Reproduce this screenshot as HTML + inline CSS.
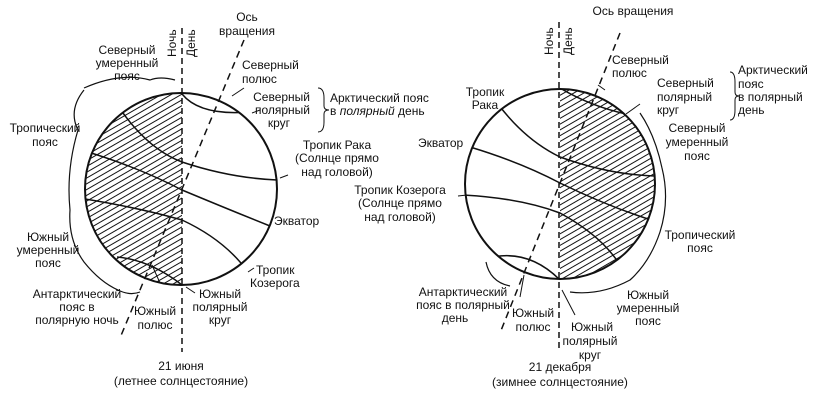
<!DOCTYPE html>
<html><head><meta charset="utf-8"><style>
html,body{margin:0;padding:0;background:#fff}
svg{display:block}
text{font-family:"Liberation Sans","DejaVu Sans",sans-serif;font-size:12px;fill:#111}
</style></head><body>
<svg width="820" height="400" viewBox="0 0 820 400" xmlns="http://www.w3.org/2000/svg">
<defs>
<pattern id="h" patternUnits="userSpaceOnUse" width="5" height="5" patternTransform="rotate(-30)">
<line x1="0" y1="2.5" x2="5" y2="2.5" stroke="#111" stroke-width="1"/>
</pattern>
<clipPath id="cl"><circle cx="181" cy="189" r="96"/></clipPath>
<clipPath id="cr"><circle cx="560" cy="184" r="95"/></clipPath>
</defs>
<g stroke="#111" fill="none" stroke-width="1.5">
<!-- LEFT -->
<rect x="80" y="85" width="102" height="210" fill="url(#h)" stroke="none" clip-path="url(#cl)"/>
<circle cx="181" cy="189" r="96" stroke-width="2"/>
<g clip-path="url(#cl)">
<path d="M182,94 Q200,116 249,112"/>
<path d="M123,113 Q150,150 182,162 Q230,178 277,180"/>
<path d="M88,152 Q140,168 182,190 Q230,210 270,226"/>
<path d="M85,199 Q140,208 182,220 Q225,240 248,272"/>
<path d="M117,257 Q150,260 182,285"/>
</g>
<line x1="182" y1="28" x2="182" y2="352" stroke-dasharray="6,4"/>
<line x1="244" y1="40" x2="120" y2="338" stroke-dasharray="7,5"/>
<path d="M84,88 Q120,72 150,80 Q160,76 175,80" stroke-width="1.2"/>
<path d="M84,90 Q68,110 78,130 Q66,170 70,210 Q68,240 84,262 Q100,282 118,290 Q130,296 140,292" stroke-width="1.2"/>
<path d="M318,88 q6,0 6,10 v8 q0,4 5,4 q-5,0 -5,4 v8 q0,10 -6,10" stroke-width="1"/>
<path d="M232,96 L244,88 M252,113 L260,110 M280,178 L288,175 M248,272 L254,268 M160,283 L152,265 M186,287 L195,293" stroke-width="1"/>
<!-- RIGHT -->
<rect x="560" y="85" width="100" height="200" fill="url(#h)" stroke="none" clip-path="url(#cr)"/>
<circle cx="560" cy="184" r="95" stroke-width="2"/>
<g clip-path="url(#cr)">
<path d="M560,88 Q590,106 626,114"/>
<path d="M498,104 Q525,140 560,157 Q610,175 656,176"/>
<path d="M470,147 Q520,162 560,183 Q605,205 648,219"/>
<path d="M463,195 Q520,198 560,213 Q600,235 618,262"/>
<path d="M493,257 Q530,250 560,280"/>
</g>
<line x1="559" y1="22" x2="559" y2="350" stroke-dasharray="6,4"/>
<line x1="620" y1="33" x2="500" y2="333" stroke-dasharray="7,5"/>
<path d="M640,113 Q655,135 662,168 Q670,200 660,232 Q650,262 630,280 Q600,296 570,292" stroke-width="1.2"/>
<path d="M486,262 Q490,282 510,286" stroke-width="1.2"/>
<path d="M730,72 q5,0 5,10 v10 q0,4 4,4 q-4,0 -4,4 v10 q0,10 -5,10" stroke-width="1"/>
<path d="M605,90 L598,85 M626,114 L640,104 M467,195 L458,196 M520,297 L524,275 M562,290 L575,315" stroke-width="1"/>
</g>
<!-- LEFT TEXT -->
<g text-anchor="middle">
<text x="247" y="21">Ось</text><text x="247" y="35">вращения</text>
<text x="127" y="54">Северный</text><text x="127" y="67">умеренный</text><text x="127" y="80">пояс</text>
<text x="45" y="132">Тропический</text><text x="45" y="146">пояс</text>
<text x="337" y="149">Тропик Рака</text><text x="337" y="162">(Солнце прямо</text><text x="337" y="176">над головой)</text>
<text x="48" y="241">Южный</text><text x="48" y="254">умеренный</text><text x="48" y="267">пояс</text>
<text x="77" y="298">Антарктический</text><text x="77" y="311">пояс в</text><text x="77" y="324">полярную ночь</text>
<text x="155" y="315">Южный</text><text x="155" y="329">полюс</text>
<text x="220" y="298">Южный</text><text x="220" y="311">полярный</text><text x="220" y="324">круг</text>
<text x="181" y="370">21 июня</text><text x="181" y="385">(летнее солнцестояние)</text>
</g>
<text x="242" y="69">Северный</text><text x="242" y="83">полюс</text>
<g text-anchor="end"><text x="310" y="101">Северный</text><text x="310" y="114">полярный</text><text x="290" y="127">круг</text></g>
<text x="330" y="102">Арктический пояс</text><text x="330" y="115">в <tspan font-style="italic">полярный</tspan> день</text>
<text x="274" y="225">Экватор</text>
<text x="256" y="274">Тропик</text><text x="250" y="287">Козерога</text>
<text transform="translate(176,57) rotate(-90)">Ночь</text>
<text transform="translate(195,57) rotate(-90)">День</text>
<!-- RIGHT TEXT -->
<g text-anchor="middle">
<text x="633" y="15">Ось вращения</text>
<text x="697" y="132">Северный</text><text x="697" y="146">умеренный</text><text x="697" y="160">пояс</text>
<text x="700" y="239">Тропический</text><text x="700" y="252">пояс</text>
<text x="648" y="299">Южный</text><text x="648" y="312">умеренный</text><text x="648" y="325">пояс</text>
<text x="592" y="331">Южный</text><text x="590" y="345">полярный</text><text x="590" y="359">круг</text>
<text x="533" y="317">Южный</text><text x="533" y="331">полюс</text>
<text x="463" y="296">Антарктический</text><text x="463" y="309">пояс в полярный</text><text x="455" y="322">день</text>
<text x="485" y="96">Тропик</text><text x="485" y="109">Рака</text>
<text x="400" y="194">Тропик Козерога</text><text x="400" y="207">(Солнце прямо</text><text x="400" y="221">над головой)</text>
<text x="560" y="371">21 декабря</text><text x="560" y="386">(зимнее солнцестояние)</text>
</g>
<text x="612" y="64">Северный</text><text x="612" y="77">полюс</text>
<text x="657" y="87">Северный</text><text x="657" y="101">полярный</text><text x="657" y="114">круг</text>
<text x="738" y="74">Арктический</text><text x="738" y="88">пояс</text><text x="738" y="101">в полярный</text><text x="738" y="114">день</text>
<text x="418" y="147">Экватор</text>
<text transform="translate(553,55) rotate(-90)">Ночь</text>
<text transform="translate(572,55) rotate(-90)">День</text>
</svg>
</body></html>
